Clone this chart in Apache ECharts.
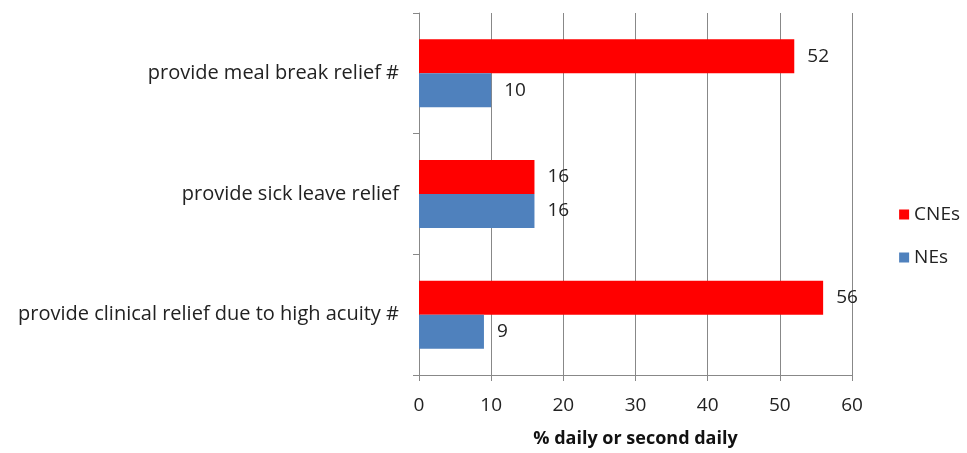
<!DOCTYPE html>
<html>
<head>
<meta charset="utf-8">
<script src="https://cdn.jsdelivr.net/npm/echarts@6/dist/echarts.min.js"></script>
<style>html,body{margin:0;padding:0;background:#fff;}#c{width:967px;height:453px;}</style>
</head>
<body>
<div id="c"></div>
<script>
const categories = ["provide meal break relief #", "provide sick leave relief", "provide clinical relief due to high acuity #"];
const cnes = [52, 16, 56];
const nes = [10, 16, 9];
const xTicks = [0, 10, 20, 30, 40, 50, 60];

const chart = echarts.init(document.getElementById('c'));
const font = "'Open Sans', sans-serif";
const lbl = {show: true, position: 'right', distance: 13, color: '#222', fontSize: 19, fontFamily: font};
chart.setOption({
  animation: false,
  textStyle: {fontFamily: font},
  grid: {left: 419, right: 115, top: 13, bottom: 76},
  legend: {
    orient: 'vertical', right: 2, top: 200, itemGap: 24,
    itemWidth: 10, itemHeight: 10, icon: 'rect', itemStyle: {borderWidth: 0},
    textStyle: {fontSize: 19, color: '#222', fontFamily: font},
    data: ['CNEs', 'NEs']
  },
  xAxis: {
    type: 'value', min: xTicks[0], max: xTicks[xTicks.length - 1], interval: 10,
    name: '% daily or second daily', nameLocation: 'middle', nameGap: 55,
    nameTextStyle: {fontWeight: 'bold', fontSize: 18, color: '#111', fontFamily: font},
    axisLine: {show: true, lineStyle: {color: '#888'}},
    axisTick: {show: true, length: 6, lineStyle: {color: '#888'}},
    axisLabel: {fontSize: 19, color: '#222', margin: 21},
    splitLine: {show: true, lineStyle: {color: '#888', width: 1}}
  },
  yAxis: {
    type: 'category', data: categories, inverse: true,
    axisLine: {show: true, lineStyle: {color: '#888'}},
    axisTick: {show: true, length: 6, inside: false, lineStyle: {color: '#888'}},
    axisLabel: {fontSize: 20, color: '#222', margin: 20}
  },
  series: [
    {name: 'CNEs', type: 'bar', data: cnes, barWidth: 34, barGap: '0%', itemStyle: {color: '#ff0000'}, label: lbl},
    {name: 'NEs', type: 'bar', data: nes, barWidth: 34, barGap: '0%', itemStyle: {color: '#4f81bd'}, label: lbl}
  ]
});
</script>
</body>
</html>
